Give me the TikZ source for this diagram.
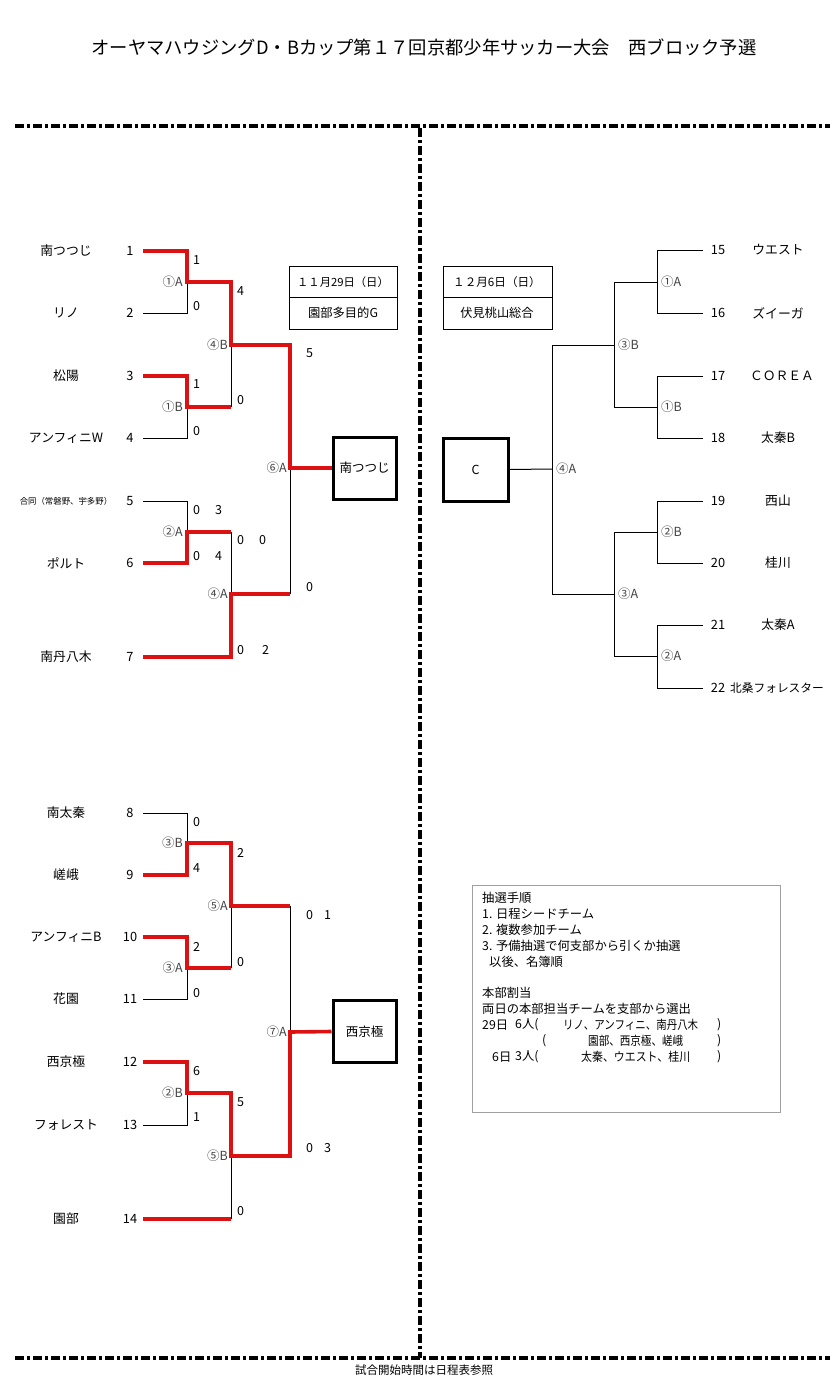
\documentclass[tikz,border=0pt]{standalone}
\usepackage{graphicx}
\usepackage{fontspec}
\setmainfont{Noto Sans CJK JP}
\definecolor{winred}{HTML}{DD1111}
\definecolor{lblgray}{HTML}{444444}
\definecolor{boxgray}{HTML}{A0A0A0}
\begin{document}
\begin{tikzpicture}[x=1pt,y=-1pt,
  team/.style={font=\fontsize{12.8}{14}\selectfont, inner sep=0pt},
  small/.style={font=\fontsize{8.4}{10}\selectfont, inner sep=0pt},
  sc/.style={font=\fontsize{12.5}{14}\selectfont, inner sep=0pt, anchor=west},
  ml/.style={font=\fontsize{12.5}{13}\selectfont, text=lblgray, inner sep=0pt},
  win/.style={draw=winred, line width=3.6pt, line join=miter},
  thin/.style={draw=black, line width=1pt},
  frame/.style={draw=black, line width=3.8pt, dash pattern=on 9pt off 3pt on 3pt off 3pt},
  champ/.style={draw=black, line width=3pt, minimum width=63pt, minimum height=62pt, inner sep=0pt, font=\fontsize{12.5}{14}\selectfont},
  info/.style={font=\fontsize{12.3}{14}\selectfont, inner sep=0pt, anchor=west}
]
\useasboundingbox (0,0) rectangle (839,1381);
\fill[white] (0,0) rectangle (839,1381);

% title and footer
\node[font=\fontsize{18.3}{20}\selectfont, inner sep=0pt] (title) at (424,47) {オーヤマハウジングD・Bカップ第１７回京都少年サッカー大会　西ブロック予選};
\node[font=\fontsize{11.5}{13}\selectfont, inner sep=0pt] (footer) at (424,1370) {試合開始時間は日程表参照};

% frame lines
\coordinate (fTL) at (15,126);
\coordinate (fTR) at (830,126);
\coordinate (fBL) at (15,1358);
\coordinate (fBR) at (830,1358);
\coordinate (fVT) at (420,128);
\coordinate (fVB) at (420,1358);
\draw[frame] (fTL) -- (fTR);
\draw[frame] (fBL) -- (fBR);
\draw[frame] (fVT) -- (fVB);

% ---------- left top teams ----------
\node[team] (n1) at (66,251) {南つつじ};   \node[team] (k1) at (130,251) {1};
\node[team] (n2) at (66,313) {リノ};       \node[team] (k2) at (130,313) {2};
\node[team] (n3) at (66,376) {松陽};       \node[team] (k3) at (130,376) {3};
\node[team] (n4) at (66,438) {アンフィニW}; \node[team] (k4) at (130,438) {4};
\node[small] (n5) at (66,501) {合同（常磐野、宇多野）}; \node[team] (k5) at (130,501) {5};
\node[team] (n6) at (66,563) {ポルト};     \node[team] (k6) at (130,563) {6};
\node[team] (n7) at (66,657) {南丹八木};   \node[team] (k7) at (130,657) {7};

\coordinate (t1) at (143,251); \coordinate (t2) at (143,313);
\coordinate (t3) at (143,376); \coordinate (t4) at (143,438);
\coordinate (t5) at (143,501); \coordinate (t6) at (143,563);
\coordinate (t7) at (143,657);
\coordinate (m1A) at (187,282); \coordinate (m1B) at (187,407);
\coordinate (m2A) at (187,532);
\coordinate (m4B) at (231,345); \coordinate (m4A) at (231,594);
\coordinate (m6A) at (290,468);

\node[champ] (box1) at (364.5,468) {南つつじ};

% thin lines
\draw[thin] (t2) -| (m1A);
\draw[thin] (t4) -| (m1B);
\draw[thin] (m1B -| m4B) -- (m4B);
\draw[thin] (t5) -| (m2A);
\draw[thin] (m2A -| m4A) -- (m4A);
\draw[thin] (m4A -| m6A) -- (m6A);
% winners
\draw[win] (t1) -| (m1A) -| (m4B) -| (m6A) -- (box1.west);
\draw[win] (t3) -| (m1B) -- (m1B -| m4B);
\draw[win] (t6) -| (m2A) -- (m2A -| m4A);
\draw[win] (t7) -| (m4A) -- (m4A -| m6A);

% match labels
\node[ml, anchor=east] (l1A) at ([xshift=-4pt]m1A) {①A};
\node[ml, anchor=east] (l1B) at ([xshift=-4pt]m1B) {①B};
\node[ml, anchor=east] (l2A) at ([xshift=-4pt]m2A) {②A};
\node[ml, anchor=east] (l4B) at ([xshift=-3pt]m4B) {④B};
\node[ml, anchor=east] (l4A) at ([xshift=-3pt]m4A) {④A};
\node[ml, anchor=east] (l6A) at ([xshift=-3pt]m6A) {⑥A};

% scores
\node[sc] (s1) at (193,260) {1};
\node[sc] (s2) at (193,306) {0};
\node[sc] (s3) at (237,291) {4};
\node[sc] (s4) at (237,400) {0};
\node[sc] (s5) at (306,353) {5};
\node[sc] (s6) at (193,384) {1};
\node[sc] (s7) at (193,431) {0};
\node[sc] (s8) at (193,510) {0\hspace{15pt}3};
\node[sc] (s9) at (193,556) {0\hspace{15pt}4};
\node[sc] (s10) at (237,540) {0\hspace{15pt}0};
\node[sc] (s11) at (237,650) {0\hspace{18pt}2};
\node[sc] (s12) at (306,587) {0};

% ---------- left bottom teams ----------
\node[team] (n8) at (66,813) {南太秦};     \node[team] (k8) at (130,813) {8};
\node[team] (n9) at (66,875) {嵯峨};       \node[team] (k9) at (130,875) {9};
\node[team] (n10) at (66,937) {アンフィニB}; \node[team] (k10) at (130,937) {10};
\node[team] (n11) at (66,999) {花園};      \node[team] (k11) at (130,999) {11};
\node[team] (n12) at (66,1062) {西京極};   \node[team] (k12) at (130,1062) {12};
\node[team] (n13) at (66,1125) {フォレスト}; \node[team] (k13) at (130,1125) {13};
\node[team] (n14) at (66,1219) {園部};     \node[team] (k14) at (130,1219) {14};

\coordinate (t8) at (143,813);   \coordinate (t9) at (143,875);
\coordinate (t10) at (143,937);  \coordinate (t11) at (143,999);
\coordinate (t12) at (143,1062); \coordinate (t13) at (143,1125);
\coordinate (t14) at (143,1219);
\coordinate (m3B) at (187,843); \coordinate (m3A) at (187,968);
\coordinate (m2B) at (187,1093);
\coordinate (m5A) at (231,906); \coordinate (m5B) at (231,1156);
\coordinate (m7A) at (290,1032);

\node[champ] (box2) at (364.5,1031.5) {西京極};

\draw[thin] (t8) -| (m3B);
\draw[thin] (t11) -| (m3A);
\draw[thin] (m3A -| m5A) -- (m5A);
\draw[thin] (m5A -| m7A) -- (m7A);
\draw[thin] (t13) -| (m2B);
\draw[thin] (t14 -| m5B) -- (m5B);
\draw[win] (t9) -| (m3B) -| (m5A) -- (m5A -| m7A);
\draw[win] (t10) -| (m3A) -- (m3A -| m5A);
\draw[win] (t12) -| (m2B) -| (m5B) -| (m7A) -- (box2.west);
\draw[win] (t14) -- (t14 -| m5B);

\node[ml, anchor=east] (l3B) at ([xshift=-4pt]m3B) {③B};
\node[ml, anchor=east] (l3A) at ([xshift=-4pt]m3A) {③A};
\node[ml, anchor=east] (l2B) at ([xshift=-4pt]m2B) {②B};
\node[ml, anchor=east] (l5A) at ([xshift=-3pt]m5A) {⑤A};
\node[ml, anchor=east] (l5B) at ([xshift=-3pt]m5B) {⑤B};
\node[ml, anchor=east] (l7A) at ([xshift=-3pt]m7A) {⑦A};

\node[sc] (s13) at (193,822) {0};
\node[sc] (s14) at (193,868) {4};
\node[sc] (s15) at (237,853) {2};
\node[sc] (s16) at (306,915) {0\hspace{11pt}1};
\node[sc] (s17) at (193,947) {2};
\node[sc] (s18) at (193,993) {0};
\node[sc] (s19) at (237,962) {0};
\node[sc] (s20) at (193,1071) {6};
\node[sc] (s21) at (193,1117) {1};
\node[sc] (s22) at (237,1102) {5};
\node[sc] (s23) at (306,1148) {0\hspace{11pt}3};
\node[sc] (s24) at (237,1211) {0};

% ---------- date boxes ----------
\coordinate (d1a) at (289,266); \coordinate (d1b) at (397,329);
\coordinate (d1l) at (289,297); \coordinate (d1r) at (397,297);
\draw[thin] (d1a) rectangle (d1b);
\draw[thin] (d1l) -- (d1r);
\node[font=\fontsize{11.3}{13}\selectfont, inner sep=0pt] (d1t) at (343,282) {１１月29日（日）};
\node[font=\fontsize{12.3}{14}\selectfont, inner sep=0pt] (d1p) at (343,313) {園部多目的G};

\coordinate (d2a) at (443,266); \coordinate (d2b) at (552,329);
\coordinate (d2l) at (443,297); \coordinate (d2r) at (552,297);
\draw[thin] (d2a) rectangle (d2b);
\draw[thin] (d2l) -- (d2r);
\node[font=\fontsize{11.6}{13}\selectfont, inner sep=0pt] (d2t) at (497,282) {１２月6日（日）};
\node[font=\fontsize{12.2}{14}\selectfont, inner sep=0pt] (d2p) at (497,313) {伏見桃山総合};

% ---------- right bracket ----------
\node[team] (k15) at (718,250) {15}; \node[team] (n15) at (778,250) {ウエスト};
\node[team] (k16) at (718,313) {16}; \node[team] (n16) at (778,313) {ズイーガ};
\node[team] (k17) at (718,376) {17}; \node[team] (n17) at (782,376) {ＣＯＲＥＡ};
\node[team] (k18) at (718,438) {18}; \node[team] (n18) at (778,438) {太秦B};
\node[team] (k19) at (718,501) {19}; \node[team] (n19) at (778,501) {西山};
\node[team] (k20) at (718,563) {20}; \node[team] (n20) at (778,563) {桂川};
\node[team] (k21) at (718,625) {21}; \node[team] (n21) at (778,625) {太秦A};
\node[team] (k22) at (718,688) {22}; \node[team, font=\fontsize{11.7}{14}\selectfont] (n22) at (777,688) {北桑フォレスター};

\coordinate (t15) at (703,250); \coordinate (t16) at (703,313);
\coordinate (t17) at (703,376); \coordinate (t18) at (703,438);
\coordinate (t19) at (703,501); \coordinate (t20) at (703,563);
\coordinate (t21) at (703,625); \coordinate (t22) at (703,688);
\coordinate (r1A) at (657,282); \coordinate (r1B) at (657,407);
\coordinate (r2B) at (657,532); \coordinate (r2A) at (657,656);
\coordinate (r3B) at (614,345); \coordinate (r3A) at (614,594);
\coordinate (r4A) at (552,469);

\node[champ, minimum width=65pt, minimum height=63pt] (boxC) at (475.5,469.5) {C};

\draw[thin] (t15) -| (r1A);
\draw[thin] (t16) -| (r1A);
\draw[thin] (t17) -| (r1B);
\draw[thin] (t18) -| (r1B);
\draw[thin] (t19) -| (r2B);
\draw[thin] (t20) -| (r2B);
\draw[thin] (t21) -| (r2A);
\draw[thin] (t22) -| (r2A);
\draw[thin] (r1A) -| (r3B);
\draw[thin] (r1B) -| (r3B);
\draw[thin] (r2B) -| (r3A);
\draw[thin] (r2A) -| (r3A);
\draw[thin] (r3B) -| (r4A);
\draw[thin] (r3A) -| (r4A);
\draw[thin] (r4A) -- (boxC.east);

\node[ml, anchor=west] (q1A) at ([xshift=4pt]r1A) {①A};
\node[ml, anchor=west] (q1B) at ([xshift=4pt]r1B) {①B};
\node[ml, anchor=west] (q2B) at ([xshift=4pt]r2B) {②B};
\node[ml, anchor=west] (q2A) at ([xshift=4pt]r2A) {②A};
\node[ml, anchor=west] (q3B) at ([xshift=4pt]r3B) {③B};
\node[ml, anchor=west] (q3A) at ([xshift=4pt]r3A) {③A};
\node[ml, anchor=west] (q4A) at ([xshift=4pt]r4A) {④A};

% ---------- info box ----------
\coordinate (ia) at (472,885); \coordinate (ib) at (780,1112);
\draw[draw=boxgray, line width=1pt] (ia) rectangle (ib);
\node[info] (i1) at (482,898) {抽選手順};
\node[info] (i2) at (482,914) {1. 日程シードチーム};
\node[info] (i3) at (482,930) {2.  複数参加チーム};
\node[info] (i4) at (482,946) {3. 予備抽選で何支部から引くか抽選};
\node[info] (i5) at (489,962) {以後、名簿順};
\node[info] (i6) at (482,993) {本部割当};
\node[info] (i7) at (482,1009) {両日の本部担当チームを支部から選出};
\node[info] (i8) at (482,1025) {29日};
\node[info] (i9) at (515,1025) {6人(};
\node[info] (i10) at (563,1025) {\resizebox{135pt}{\height}{リノ、アンフィニ、南丹八木}};
\node[info] (i11) at (717,1025) {)};
\node[info] (i12) at (542,1041) {(};
\node[info] (i13) at (588,1041) {\resizebox{95pt}{\height}{園部、西京極、嵯峨}};
\node[info] (i14) at (717,1041) {)};
\node[info] (i15) at (492,1057) {6日};
\node[info] (i16) at (515,1057) {3人(};
\node[info] (i17) at (581,1057) {\resizebox{109pt}{\height}{太秦、ウエスト、桂川}};
\node[info] (i18) at (717,1057) {)};
\end{tikzpicture}
\end{document}
